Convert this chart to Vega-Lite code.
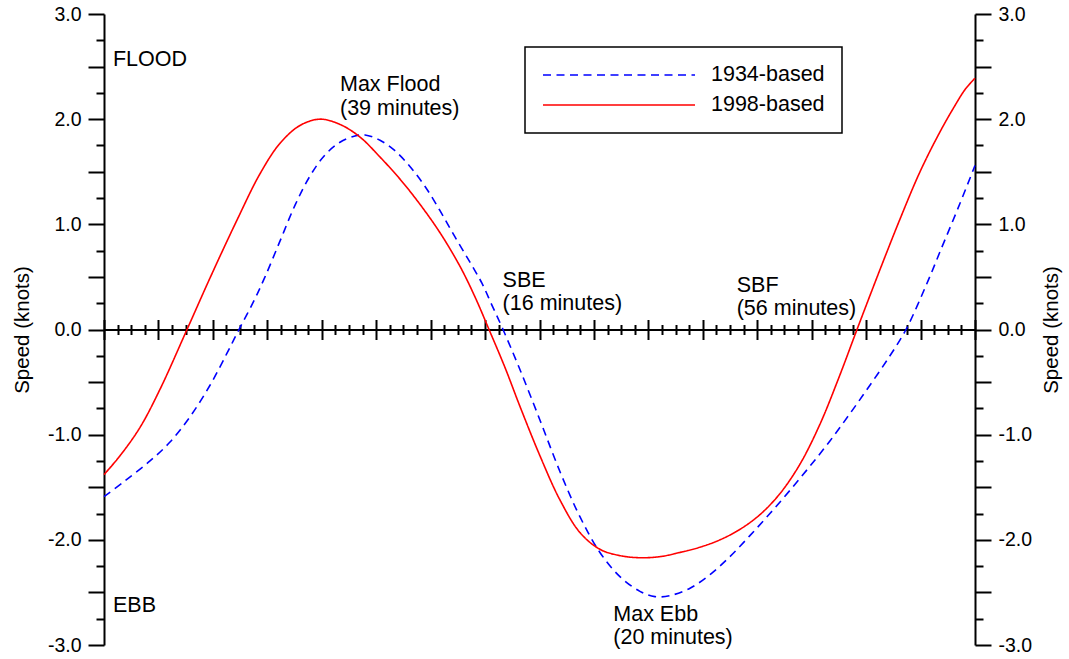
{
  "$schema": "https://vega.github.io/schema/vega-lite/v6.json",
  "width": 871,
  "height": 631,
  "autosize": "none",
  "padding": {"left": 104, "top": 14, "right": 94, "bottom": 14},
  "background": "white",
  "config": {
    "view": {"stroke": null},
    "font": "Liberation Sans",
    "axis": {
      "grid": false,
      "domainColor": "black",
      "domainWidth": 2,
      "tickColor": "black",
      "tickWidth": 2,
      "labelFont": "Liberation Sans",
      "labelFontSize": 19.5,
      "labelColor": "black",
      "titleFont": "Liberation Sans",
      "titleFontSize": 20.5,
      "titleFontWeight": "normal",
      "titleColor": "black"
    },
    "legend": {
      "orient": "none",
      "legendX": 421,
      "legendY": 33,
      "strokeColor": "black",
      "strokeWidth": 1.5,
      "fillColor": "white",
      "padding": 17,
      "symbolType": "stroke",
      "symbolSize": 23104,
      "symbolStrokeWidth": 1.6,
      "clipHeight": 22,
      "rowPadding": 8,
      "labelFont": "Liberation Sans",
      "labelFontSize": 21.5,
      "labelColor": "black",
      "labelOffset": 15,
      "labelLimit": 400
    }
  },
  "datasets": {
    "curves": [
      {"series": "1934-based", "t": 0, "speed": -1.59},
      {"series": "1934-based", "t": 1.54, "speed": -1.44},
      {"series": "1934-based", "t": 3.38, "speed": -1.25},
      {"series": "1934-based", "t": 4.85, "speed": -1.07},
      {"series": "1934-based", "t": 6.32, "speed": -0.83},
      {"series": "1934-based", "t": 7.79, "speed": -0.53},
      {"series": "1934-based", "t": 9.02, "speed": -0.23},
      {"series": "1934-based", "t": 9.92, "speed": 0},
      {"series": "1934-based", "t": 10.93, "speed": 0.25},
      {"series": "1934-based", "t": 11.83, "speed": 0.5},
      {"series": "1934-based", "t": 12.93, "speed": 0.84},
      {"series": "1934-based", "t": 14.03, "speed": 1.18},
      {"series": "1934-based", "t": 15.14, "speed": 1.46},
      {"series": "1934-based", "t": 16.24, "speed": 1.66},
      {"series": "1934-based", "t": 17.34, "speed": 1.78},
      {"series": "1934-based", "t": 18.44, "speed": 1.84},
      {"series": "1934-based", "t": 19.18, "speed": 1.85},
      {"series": "1934-based", "t": 20.28, "speed": 1.8},
      {"series": "1934-based", "t": 21.38, "speed": 1.7},
      {"series": "1934-based", "t": 22.48, "speed": 1.55},
      {"series": "1934-based", "t": 23.59, "speed": 1.36},
      {"series": "1934-based", "t": 24.69, "speed": 1.13},
      {"series": "1934-based", "t": 25.79, "speed": 0.88},
      {"series": "1934-based", "t": 26.89, "speed": 0.64},
      {"series": "1934-based", "t": 27.77, "speed": 0.44},
      {"series": "1934-based", "t": 28.51, "speed": 0.23},
      {"series": "1934-based", "t": 29.32, "speed": 0},
      {"series": "1934-based", "t": 30.56, "speed": -0.38},
      {"series": "1934-based", "t": 32.03, "speed": -0.86},
      {"series": "1934-based", "t": 33.5, "speed": -1.35},
      {"series": "1934-based", "t": 34.97, "speed": -1.78},
      {"series": "1934-based", "t": 36.44, "speed": -2.12},
      {"series": "1934-based", "t": 37.91, "speed": -2.35},
      {"series": "1934-based", "t": 39.38, "speed": -2.49},
      {"series": "1934-based", "t": 40.48, "speed": -2.54},
      {"series": "1934-based", "t": 41.59, "speed": -2.53},
      {"series": "1934-based", "t": 43.06, "speed": -2.46},
      {"series": "1934-based", "t": 44.53, "speed": -2.33},
      {"series": "1934-based", "t": 45.99, "speed": -2.16},
      {"series": "1934-based", "t": 47.46, "speed": -1.96},
      {"series": "1934-based", "t": 48.93, "speed": -1.75},
      {"series": "1934-based", "t": 50.4, "speed": -1.53},
      {"series": "1934-based", "t": 51.87, "speed": -1.3},
      {"series": "1934-based", "t": 53.34, "speed": -1.06},
      {"series": "1934-based", "t": 54.81, "speed": -0.8},
      {"series": "1934-based", "t": 56.28, "speed": -0.53},
      {"series": "1934-based", "t": 57.75, "speed": -0.25},
      {"series": "1934-based", "t": 58.93, "speed": 0},
      {"series": "1934-based", "t": 60.54, "speed": 0.46},
      {"series": "1934-based", "t": 61.43, "speed": 0.74},
      {"series": "1934-based", "t": 62.9, "speed": 1.2},
      {"series": "1934-based", "t": 64, "speed": 1.56},
      {"series": "1998-based", "t": 0, "speed": -1.38},
      {"series": "1998-based", "t": 1.18, "speed": -1.2},
      {"series": "1998-based", "t": 2.65, "speed": -0.93},
      {"series": "1998-based", "t": 4.11, "speed": -0.57},
      {"series": "1998-based", "t": 6.1, "speed": 0},
      {"series": "1998-based", "t": 7.79, "speed": 0.49},
      {"series": "1998-based", "t": 9.77, "speed": 1.04},
      {"series": "1998-based", "t": 11.46, "speed": 1.48},
      {"series": "1998-based", "t": 12.93, "speed": 1.77},
      {"series": "1998-based", "t": 14.4, "speed": 1.94},
      {"series": "1998-based", "t": 15.87, "speed": 2.0},
      {"series": "1998-based", "t": 17.34, "speed": 1.95},
      {"series": "1998-based", "t": 18.81, "speed": 1.83},
      {"series": "1998-based", "t": 20.28, "speed": 1.64},
      {"series": "1998-based", "t": 21.75, "speed": 1.43},
      {"series": "1998-based", "t": 23.22, "speed": 1.19},
      {"series": "1998-based", "t": 24.69, "speed": 0.92},
      {"series": "1998-based", "t": 26.16, "speed": 0.6},
      {"series": "1998-based", "t": 27.26, "speed": 0.31},
      {"series": "1998-based", "t": 28.29, "speed": 0},
      {"series": "1998-based", "t": 29.46, "speed": -0.36},
      {"series": "1998-based", "t": 30.56, "speed": -0.73},
      {"series": "1998-based", "t": 32.03, "speed": -1.2},
      {"series": "1998-based", "t": 33.5, "speed": -1.62},
      {"series": "1998-based", "t": 34.97, "speed": -1.93},
      {"series": "1998-based", "t": 36.44, "speed": -2.09},
      {"series": "1998-based", "t": 37.91, "speed": -2.15},
      {"series": "1998-based", "t": 39.38, "speed": -2.17},
      {"series": "1998-based", "t": 40.85, "speed": -2.16},
      {"series": "1998-based", "t": 42.32, "speed": -2.12},
      {"series": "1998-based", "t": 43.79, "speed": -2.07},
      {"series": "1998-based", "t": 45.26, "speed": -2.0},
      {"series": "1998-based", "t": 46.73, "speed": -1.9},
      {"series": "1998-based", "t": 48.2, "speed": -1.76},
      {"series": "1998-based", "t": 49.67, "speed": -1.56},
      {"series": "1998-based", "t": 51.14, "speed": -1.28},
      {"series": "1998-based", "t": 52.61, "speed": -0.9},
      {"series": "1998-based", "t": 54.08, "speed": -0.43},
      {"series": "1998-based", "t": 55.33, "speed": 0},
      {"series": "1998-based", "t": 57.02, "speed": 0.57},
      {"series": "1998-based", "t": 58.49, "speed": 1.05},
      {"series": "1998-based", "t": 59.96, "speed": 1.5},
      {"series": "1998-based", "t": 61.43, "speed": 1.88},
      {"series": "1998-based", "t": 62.53, "speed": 2.13},
      {"series": "1998-based", "t": 63.26, "speed": 2.28},
      {"series": "1998-based", "t": 64, "speed": 2.39}
    ],
    "notes": [
      {"x": 0.66, "y": 2.51, "label": ["FLOOD"]},
      {"x": 0.66, "y": -2.69, "label": ["EBB"]},
      {"x": 17.34, "y": 2.267, "label": ["Max Flood", "(39 minutes)"]},
      {"x": 29.29, "y": 0.407, "label": ["SBE", "(16 minutes)"]},
      {"x": 46.49, "y": 0.36, "label": ["SBF", "(56 minutes)"]},
      {"x": 37.42, "y": -2.768, "label": ["Max Ebb", "(20 minutes)"]}
    ]
  },
  "layer": [
    {
      "data": {"name": "curves"},
      "mark": {"type": "line", "strokeWidth": 1.6, "interpolate": "catmull-rom"},
      "encoding": {
        "x": {
          "field": "t",
          "type": "quantitative",
          "scale": {"domain": [0, 64], "nice": false, "zero": false},
          "axis": {
            "orient": "bottom",
            "offset": -315.5,
            "values": [0,1,2,3,4,5,6,7,8,9,10,11,12,13,14,15,16,17,18,19,20,21,22,23,24,25,26,27,28,29,30,31,32,33,34,35,36,37,38,39,40,41,42,43,44,45,46,47,48,49,50,51,52,53,54,55,56,57,58,59,60,61,62,63,64],
            "labels": false,
            "title": null,
            "tickSize": {"condition": {"test": "datum.value % 4 === 0", "value": 10}, "value": 5}
          }
        },
        "y": {
          "field": "speed",
          "type": "quantitative",
          "scale": {"domain": [-3, 3], "nice": false, "zero": false},
          "axis": {
            "orient": "left",
            "values": [-3,-2.75,-2.5,-2.25,-2,-1.75,-1.5,-1.25,-1,-0.75,-0.5,-0.25,0,0.25,0.5,0.75,1,1.25,1.5,1.75,2,2.25,2.5,2.75,3],
            "tickSize": {"condition": {"test": "datum.value * 2 === round(datum.value * 2)", "value": 16}, "value": 8},
            "labelExpr": "datum.value === round(datum.value) ? (datum.value < 0 ? '-' : '') + format(abs(datum.value), '.1f') : ''",
            "labelPadding": 7,
            "title": "Speed (knots)",
            "titleAngle": -90,
            "titleBaseline": "alphabetic",
            "titleAlign": "center",
            "titleX": -76,
            "titleY": 315.5
          }
        },
        "color": {
          "field": "series",
          "type": "nominal",
          "scale": {"domain": ["1934-based", "1998-based"], "range": ["#0000ff", "#ff0000"]},
          "legend": {"title": null}
        },
        "strokeDash": {
          "field": "series",
          "type": "nominal",
          "scale": {"domain": ["1934-based", "1998-based"], "range": [[8, 5.5], [1, 0]]},
          "legend": {"title": null}
        }
      }
    },
    {
      "data": {"name": "notes"},
      "mark": {"type": "text", "align": "left", "baseline": "alphabetic", "fontSize": 21.5, "lineHeight": 23.5, "font": "Liberation Sans", "color": "black"},
      "encoding": {
        "x": {
          "field": "x",
          "type": "quantitative",
          "axis": {
            "orient": "top",
            "offset": -315.5,
            "domain": false,
            "values": [0,1,2,3,4,5,6,7,8,9,10,11,12,13,14,15,16,17,18,19,20,21,22,23,24,25,26,27,28,29,30,31,32,33,34,35,36,37,38,39,40,41,42,43,44,45,46,47,48,49,50,51,52,53,54,55,56,57,58,59,60,61,62,63,64],
            "labels": false,
            "title": null,
            "tickSize": {"condition": {"test": "datum.value % 4 === 0", "value": 10}, "value": 5}
          }
        },
        "y": {
          "field": "y",
          "type": "quantitative",
          "axis": {
            "orient": "right",
            "values": [-3,-2.75,-2.5,-2.25,-2,-1.75,-1.5,-1.25,-1,-0.75,-0.5,-0.25,0,0.25,0.5,0.75,1,1.25,1.5,1.75,2,2.25,2.5,2.75,3],
            "tickSize": {"condition": {"test": "datum.value * 2 === round(datum.value * 2)", "value": 16}, "value": 8},
            "labelExpr": "datum.value === round(datum.value) ? (datum.value < 0 ? '-' : '') + format(abs(datum.value), '.1f') : ''",
            "labelPadding": 7,
            "title": "Speed (knots)",
            "titleAngle": 270,
            "titleBaseline": "alphabetic",
            "titleAlign": "center",
            "titleX": 82,
            "titleY": 315.5
          }
        },
        "text": {"field": "label", "type": "nominal"}
      }
    }
  ],
  "resolve": {"axis": {"x": "independent", "y": "independent"}}
}
